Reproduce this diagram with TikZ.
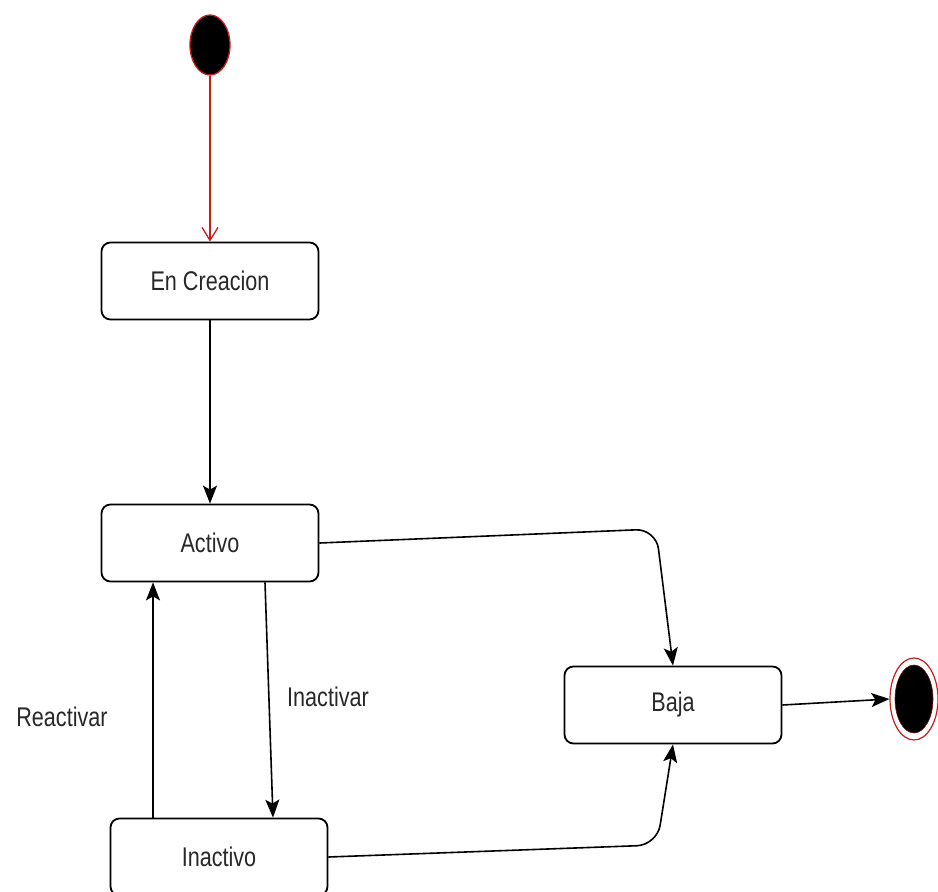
\documentclass[tikz,border=0pt]{standalone}
\usepackage{fontspec}
\newfontfamily\narrowsans[FakeStretch=0.8]{Liberation Sans}
\usetikzlibrary{arrows.meta,shapes.geometric}
\definecolor{initred}{RGB}{200,30,30}
\definecolor{labelgray}{RGB}{40,40,40}
\tikzset{
  statebox/.style={draw=black, line width=1.8pt, rounded corners=9pt, fill=white,
    minimum width=217pt, minimum height=77pt, inner sep=0pt,
    font=\narrowsans\fontsize{27}{30}\selectfont, text=labelgray},
  edgelabel/.style={font=\narrowsans\fontsize{27}{30}\selectfont, text=labelgray, inner sep=0pt},
  flow/.style={draw=black, line width=1.6pt, rounded corners=20pt,
    -{Stealth[length=18pt, width=14pt, inset=4pt]}},
  initflow/.style={draw=initred, line width=1.3pt,
    -{Straight Barb[length=13pt, width=16pt, line width=1.3pt]}}
}
\begin{document}
\begin{tikzpicture}[x=1pt, y=-1pt]
  \clip (0,0) rectangle (938,892);
  \fill[white] (0,0) rectangle (938,892);

  % initial and final pseudo-states
  \node[draw=initred, fill=black, line width=1.3pt, ellipse, minimum width=40pt, minimum height=60pt, inner sep=0pt] (init) at (210,45) {};
  \node[draw=initred, line width=1.2pt, ellipse, minimum width=48pt, minimum height=82pt, inner sep=0pt] (final) at (914,699) {};
  \node[fill=black, draw=initred!60!black, line width=0.6pt, ellipse, minimum width=38pt, minimum height=68pt, inner sep=0pt] (finalcore) at (914,699) {};

  % states
  \node[statebox] (creacion) at (210,281) {En Creacion};
  \node[statebox] (activo) at (210,543) {Activo};
  \node[statebox] (baja) at (673,705) {Baja};
  \node[statebox] (inactivo) at (219,857) {Inactivo};

  % transitions
  \draw[initflow] (init.south) -- (creacion.north);
  \draw[flow] (creacion.south) -- (activo.north);
  \draw[flow] (activo.east) -- (656,529) -- (baja.north);
  \draw[flow] (inactivo.east) -- (657,845) -- (baja.south);
  \draw[flow] ([xshift=55pt]activo.south) -- ([xshift=54pt]inactivo.north);
  \draw[flow] ([xshift=-66pt]inactivo.north) -- ([xshift=-57pt]activo.south);
  \draw[flow] (baja.east) -- (final.west);

  % transition labels
  \node[edgelabel] (lblreact) at (62,717) {Reactivar};
  \node[edgelabel] (lblinact) at (328,697) {Inactivar};
\end{tikzpicture}
\end{document}
